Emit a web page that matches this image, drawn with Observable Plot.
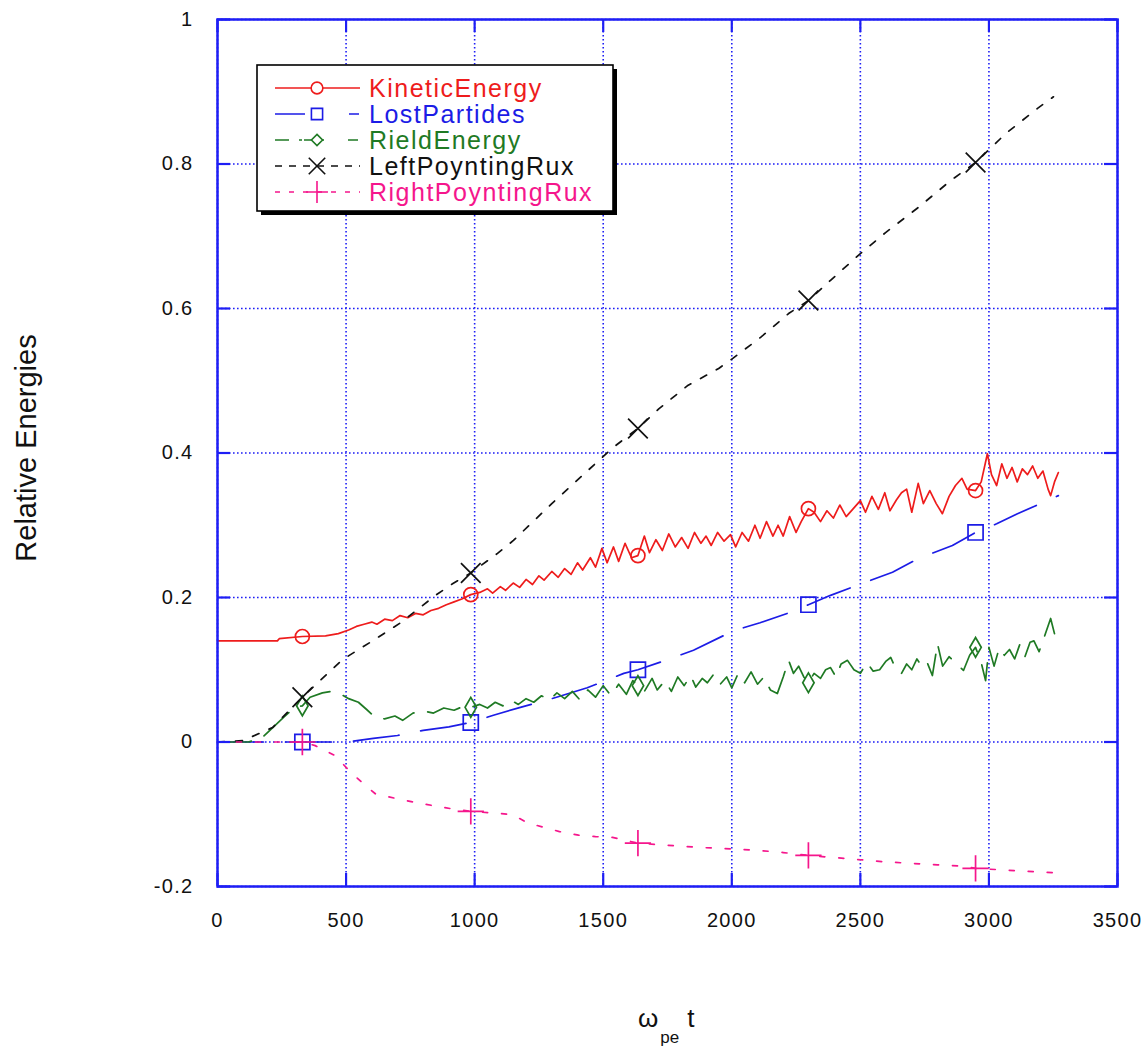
<!DOCTYPE html>
<html>
<head>
<meta charset="utf-8">
<script src="https://cdn.jsdelivr.net/npm/d3@7"></script>
<script src="https://cdn.jsdelivr.net/npm/@observablehq/plot@0.6"></script>
<style>
  html, body { margin: 0; padding: 0; background: #fff; }
  #chart svg { display: block; }
  #chart [aria-label="x-axis tick label"] text,
  #chart [aria-label="y-axis tick label"] text { letter-spacing: 1.3px; }
</style>
</head>
<body>
<div id="chart"></div>
<script>
// ---------------- data ----------------
const xTicks = [0, 500, 1000, 1500, 2000, 2500, 3000, 3500];
const yTicks = [-0.2, 0, 0.2, 0.4, 0.6, 0.8, 1];

const seriesNames = ["KineticEnergy", "LostPartides", "RieldEnergy", "LeftPoyntingRux", "RightPoyntingRux"];

// [time, relative energy]
const kinetic = [
  [0,0.140],[233,0.140],[240,0.143],[330,0.146],[420,0.147],[470,0.150],[510,0.155],[540,0.160],
  [570,0.163],[600,0.166],[620,0.163],[650,0.170],[680,0.168],[710,0.175],[740,0.172],[770,0.178],
  [800,0.176],[830,0.182],[860,0.185],[890,0.190],[920,0.194],[950,0.198],[985,0.204],[1020,0.207],
  [1050,0.212],[1070,0.206],[1100,0.215],[1120,0.210],[1150,0.220],[1175,0.214],[1200,0.225],[1225,0.218],
  [1250,0.230],[1270,0.224],[1300,0.236],[1325,0.228],[1350,0.240],[1375,0.232],[1400,0.248],[1420,0.238],
  [1450,0.255],[1470,0.242],[1495,0.268],[1515,0.248],[1540,0.270],[1560,0.250],[1585,0.275],[1610,0.255],
  [1635,0.258],[1660,0.285],[1680,0.262],[1705,0.280],[1730,0.265],[1755,0.288],[1780,0.270],[1805,0.283],
  [1830,0.268],[1855,0.290],[1880,0.275],[1900,0.285],[1920,0.272],[1945,0.290],[1970,0.278],[1995,0.287],
  [2015,0.270],[2040,0.290],[2065,0.278],[2090,0.300],[2110,0.282],[2135,0.305],[2160,0.285],[2180,0.300],
  [2200,0.285],[2225,0.312],[2250,0.290],[2270,0.305],[2298,0.323],[2320,0.318],[2345,0.305],[2370,0.320],
  [2395,0.310],[2420,0.328],[2445,0.312],[2470,0.322],[2500,0.334],[2520,0.318],[2545,0.340],[2570,0.322],
  [2595,0.345],[2615,0.320],[2640,0.335],[2660,0.345],[2680,0.350],[2700,0.318],[2725,0.358],[2745,0.330],
  [2770,0.348],[2795,0.330],[2819,0.316],[2845,0.340],[2870,0.355],[2895,0.365],[2915,0.350],[2948,0.348],
  [2970,0.360],[2994,0.399],[3010,0.370],[3030,0.355],[3050,0.385],[3070,0.365],[3090,0.380],[3110,0.360],
  [3130,0.378],[3150,0.370],[3170,0.382],[3190,0.365],[3210,0.375],[3230,0.350],[3240,0.341],[3255,0.360],
  [3270,0.373]
];

const lostParticles = [
  [0,0],[330,0],[505,0],[606,0.005],[700,0.009],[800,0.016],[900,0.021],[985,0.027],[1073,0.037],
  [1178,0.048],[1300,0.060],[1438,0.075],[1580,0.095],[1635,0.100],[1750,0.114],[1851,0.127],[2007,0.154],
  [2110,0.165],[2216,0.178],[2298,0.190],[2384,0.203],[2489,0.217],[2625,0.235],[2726,0.254],[2858,0.272],
  [2948,0.290],[3030,0.302],[3111,0.316],[3227,0.334],[3270,0.341]
];

const fieldEnergy = [
  [0,0],[120,0],[170,0.005],[215,0.020],[260,0.035],[300,0.048],[330,0.050],[360,0.062],[408,0.068],
  [440,0.070],[480,0.066],[510,0.060],[548,0.055],[580,0.045],[614,0.034],[650,0.032],[690,0.036],
  [720,0.030],[760,0.040],[800,0.043],[840,0.040],[880,0.047],[920,0.044],[960,0.050],[985,0.048],
  [1020,0.052],[1050,0.047],[1080,0.055],[1110,0.050],[1140,0.058],[1170,0.052],[1200,0.060],[1230,0.055],
  [1260,0.064],[1290,0.058],[1320,0.068],[1350,0.060],[1380,0.070],[1410,0.058],[1440,0.072],[1470,0.062],
  [1500,0.078],[1530,0.064],[1560,0.080],[1590,0.066],[1615,0.085],[1635,0.078],[1660,0.070],[1690,0.088],
  [1710,0.072],[1740,0.085],[1765,0.070],[1790,0.090],[1815,0.078],[1840,0.092],[1860,0.076],[1885,0.088],
  [1905,0.082],[1930,0.094],[1955,0.080],[1980,0.090],[2000,0.075],[2025,0.095],[2050,0.082],[2075,0.097],
  [2100,0.080],[2125,0.090],[2150,0.072],[2177,0.067],[2200,0.090],[2221,0.113],[2240,0.095],[2260,0.105],
  [2280,0.090],[2298,0.082],[2320,0.095],[2345,0.088],[2365,0.100],[2384,0.103],[2405,0.090],[2425,0.108],
  [2450,0.113],[2475,0.100],[2500,0.095],[2525,0.110],[2550,0.098],[2575,0.100],[2600,0.112],[2618,0.117],
  [2640,0.100],[2660,0.095],[2680,0.108],[2700,0.100],[2720,0.115],[2740,0.104],[2760,0.110],[2780,0.092],
  [2800,0.136],[2820,0.105],[2845,0.118],[2870,0.110],[2901,0.099],[2925,0.120],[2948,0.131],[2970,0.110],
  [2987,0.085],[3000,0.131],[3020,0.105],[3040,0.130],[3060,0.120],[3080,0.128],[3100,0.115],[3120,0.135],
  [3140,0.118],[3160,0.138],[3175,0.140],[3195,0.125],[3215,0.145],[3240,0.171],[3255,0.150],[3270,0.145]
];

const leftFlux = [
  [0,0],[100,0.002],[214,0.020],[330,0.062],[486,0.114],[603,0.140],[712,0.165],[848,0.203],[914,0.219],
  [985,0.234],[1089,0.261],[1151,0.279],[1300,0.330],[1490,0.392],[1540,0.408],[1635,0.434],[1716,0.461],
  [1827,0.493],[1949,0.517],[2004,0.531],[2112,0.560],[2221,0.593],[2298,0.611],[2384,0.639],[2500,0.676],
  [2598,0.705],[2726,0.740],[2851,0.777],[2948,0.802],[3065,0.842],[3189,0.877],[3251,0.893]
];

const rightFlux = [
  [0,0],[250,0],[330,0],[380,-0.005],[420,-0.012],[458,-0.019],[510,-0.039],[565,-0.057],[615,-0.072],
  [692,-0.078],[760,-0.083],[837,-0.088],[920,-0.093],[985,-0.096],[1060,-0.098],[1132,-0.100],[1170,-0.105],
  [1206,-0.112],[1268,-0.118],[1330,-0.124],[1404,-0.129],[1470,-0.131],[1536,-0.132],[1635,-0.140],
  [1750,-0.143],[1880,-0.146],[2000,-0.148],[2100,-0.150],[2200,-0.153],[2298,-0.157],[2400,-0.160],
  [2500,-0.163],[2600,-0.166],[2700,-0.168],[2800,-0.170],[2900,-0.172],[2948,-0.175],[3050,-0.177],
  [3150,-0.179],[3251,-0.181]
];

// marker positions (every ~650 time units)
const markerT = [330, 985, 1635, 2298, 2948];
const kineticMarkers = [0.146, 0.204, 0.258, 0.323, 0.348];
const lostMarkers    = [0.000, 0.027, 0.100, 0.190, 0.290];
const fieldMarkers   = [0.050, 0.048, 0.078, 0.082, 0.131];
const leftMarkers    = [0.062, 0.234, 0.434, 0.611, 0.802];
const rightMarkers   = [0.000, -0.096, -0.140, -0.157, -0.175];

// ---------------- styles ----------------
const FONT = "'Liberation Sans', Arial, Helvetica, sans-serif";
const axisBlue = "#1e1ef5";
const styles = [
  {data: kinetic,       markers: kineticMarkers, color: "#ee1c1c", dash: null,    symbol: "circle",  r: 7},
  {data: lostParticles, markers: lostMarkers,    color: "#1c1ce6", dash: "46,22", symbol: "square",  r: 8.5},
  {data: fieldEnergy,   markers: fieldMarkers,   color: "#1f7a24", dash: "34,14", symbol: "diamond", r: 6},
  {data: leftFlux,      markers: leftMarkers,    color: "#111111", dash: "7,11",  symbol: "times",   r: 9},
  {data: rightFlux,     markers: rightMarkers,   color: "#f5168c", dash: "5,14",  symbol: "plus",    r: 8.5}
];
const legendDash = ["", "30,8,2,34,10,30", "14,10,3,2,20,24,10,40", "7,7", "5,9"];

const W = 1145, H = 1050;
const mL = 217, mT = 19, mR = 28, mB = 164;
const plotW = W - mL - mR, plotH = H - mT - mB;
const tickLen = 13;

const marks = [
  Plot.ruleX(xTicks, {stroke: axisBlue, strokeWidth: 1.6, strokeDasharray: "1.6,2.4"}),
  Plot.ruleY(yTicks, {stroke: axisBlue, strokeWidth: 1.6, strokeDasharray: "1.6,2.4"})
];
styles.forEach(s => {
  marks.push(Plot.line(s.data, {x: d => d[0], y: d => d[1], stroke: s.color, strokeWidth: 1.7,
    strokeDasharray: s.dash || undefined, curve: "linear"}));
});
styles.forEach(s => {
  marks.push(Plot.dot(markerT.map((t, i) => ({t, v: s.markers[i]})),
    {x: "t", y: "v", symbol: () => s.symbol, r: s.r, stroke: s.color, fill: "none", strokeWidth: 1.7}));
});
marks.push(
  Plot.ruleX(xTicks, {stroke: axisBlue, strokeWidth: 2.2, insetTop: plotH - tickLen}),
  Plot.ruleX(xTicks, {stroke: axisBlue, strokeWidth: 2.2, insetBottom: plotH - tickLen}),
  Plot.ruleY(yTicks, {stroke: axisBlue, strokeWidth: 2.2, insetRight: plotW - tickLen}),
  Plot.ruleY(yTicks, {stroke: axisBlue, strokeWidth: 2.2, insetLeft: plotW - tickLen}),
  Plot.frame({stroke: axisBlue, strokeWidth: 2.5}),
  Plot.axisX(xTicks, {anchor: "bottom", tickSize: 0, tickPadding: 26, fontSize: 20, label: null,
    tickFormat: d => String(d), fill: "#111"}),
  Plot.axisY(yTicks, {anchor: "left", tickSize: 0, tickPadding: 24, fontSize: 20, label: null,
    tickFormat: d => String(d), fill: "#111"})
);

const chart = Plot.plot({
  width: W, height: H,
  marginLeft: mL, marginTop: mT, marginRight: mR, marginBottom: mB,
  x: {type: "linear", domain: [0, 3500]},
  y: {type: "linear", domain: [-0.2, 1]},
  style: {fontFamily: FONT, background: "#fff", color: "#111"},
  marks
});
document.getElementById("chart").appendChild(chart);

// ---------------- titles & legend (layout) ----------------
const svg = d3.select(chart);

// y axis title
svg.append("text")
  .attr("transform", "translate(36,448) rotate(-90)")
  .attr("text-anchor", "middle")
  .attr("font-family", FONT).attr("font-size", 29).attr("fill", "#111")
  .text("Relative Energies");

// x axis title: ω_pe t
const xt = svg.append("text")
  .attr("x", 638).attr("y", 1027).attr("text-anchor", "start")
  .attr("font-family", FONT).attr("font-size", 26).attr("fill", "#111");
xt.append("tspan").text("ω");
xt.append("tspan").attr("font-size", 17).attr("dy", 16).attr("dx", 2).text("pe");
xt.append("tspan").attr("dy", -16).attr("dx", 8).text("t");

// legend
const lg = svg.append("g");
lg.append("rect").attr("x", 261).attr("y", 69).attr("width", 356).attr("height", 146).attr("fill", "#000");
lg.append("rect").attr("x", 257).attr("y", 65).attr("width", 356).attr("height", 146)
  .attr("fill", "#fff").attr("stroke", "#000").attr("stroke-width", 1.6);

const symMap = {circle: d3.symbolCircle, square: d3.symbolSquare2, diamond: d3.symbolDiamond2,
                times: d3.symbolTimes, plus: d3.symbolPlus};
const rowY = [88, 114, 140, 166, 192];
styles.forEach((s, i) => {
  const y = rowY[i];
  lg.append("line").attr("x1", 275).attr("x2", 360).attr("y1", y).attr("y2", y)
    .attr("stroke", s.color).attr("stroke-width", 1.6)
    .attr("stroke-dasharray", legendDash[i] || null);
  lg.append("path")
    .attr("transform", `translate(317,${y})`)
    .attr("d", d3.symbol(symMap[s.symbol], Math.PI * s.r * s.r * 0.7)())
    .attr("fill", "#fff").attr("stroke", s.color).attr("stroke-width", 1.6);
  lg.append("text").attr("x", 369).attr("y", y).attr("dy", "0.35em").attr("text-anchor", "start")
    .attr("font-family", FONT).attr("font-size", 25).attr("letter-spacing", "1.5px")
    .attr("fill", s.color).text(seriesNames[i]);
});
</script>
</body>
</html>
